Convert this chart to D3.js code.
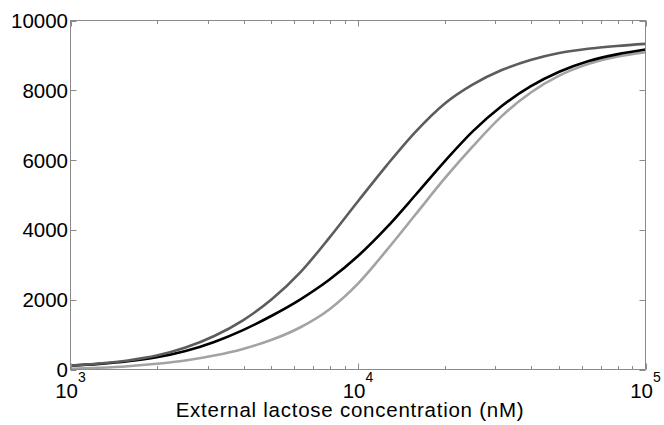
<!DOCTYPE html>
<html>
<head>
<meta charset="utf-8">
<script src="https://cdn.jsdelivr.net/npm/d3@7"></script>
<style>
  html, body { margin: 0; padding: 0; background: #fff; }
  svg { display: block; font-family: Arial, "Liberation Sans", Helvetica, sans-serif; }
</style>
</head>
<body>
<svg id="chart" width="664" height="425"></svg>
<script>
// Lactose concentration (nM)
const concentrations = [1000, 1259, 1585, 1995, 2512, 3162, 3981, 5012, 6310, 7943,
  10000, 12589, 15849, 19953, 25119, 31623, 39811, 50119, 63096, 79433, 100000];
// Series values
const seriesDark  = [110, 170, 260, 400, 630, 960, 1410, 2010, 2790, 3770,
  4820, 5850, 6810, 7610, 8170, 8580, 8870, 9070, 9190, 9270, 9330];
const seriesBlack = [110, 160, 235, 350, 530, 790, 1130, 1540, 2010, 2570,
  3250, 4070, 5000, 5950, 6830, 7550, 8110, 8530, 8830, 9030, 9170];
const seriesLight = [20, 50, 95, 165, 260, 400, 590, 850, 1210, 1720,
  2460, 3420, 4440, 5460, 6400, 7260, 7930, 8420, 8750, 8960, 9090];
const yTicks = [0, 2000, 4000, 6000, 8000, 10000];
const xMajorTicks = [1000, 10000, 100000];
const xMinorTicks = [2000, 3000, 4000, 5000, 6000, 7000, 8000, 9000,
  20000, 30000, 40000, 50000, 60000, 70000, 80000, 90000];
const xTitle = "External lactose concentration (nM)";

const svg = d3.select("#chart");
const L = 70.5, R = 645.5, T = 20.5, B = 369.5;
const x = d3.scaleLog().domain([1000, 100000]).range([L, R]);
const y = d3.scaleLinear().domain([0, 10000]).range([B, T]);
const axisColor = "#8a8a8a";

svg.append("defs").append("clipPath").attr("id", "clip")
  .append("rect").attr("x", L).attr("y", T - 2).attr("width", R - L).attr("height", B - T + 2);

const series = [
  { values: seriesLight, color: "#a3a3a3" },
  { values: seriesBlack, color: "#000000" },
  { values: seriesDark,  color: "#5c5c5c" }
];
const line = d3.line().x(d => x(d[0])).y(d => y(d[1])).curve(d3.curveMonotoneX);
svg.append("g").attr("clip-path", "url(#clip)")
  .selectAll("path").data(series).join("path")
  .attr("d", s => line(concentrations.map((c, i) => [c, s.values[i]])))
  .attr("fill", "none").attr("stroke", s => s.color).attr("stroke-width", 2.6)
  .attr("stroke-linejoin", "round");

const g = svg.append("g");
g.append("rect").attr("x", L).attr("y", T).attr("width", R - L).attr("height", B - T)
  .attr("fill", "none").attr("stroke", axisColor).attr("stroke-width", 1);

yTicks.forEach(v => {
  const yy = Math.round(y(v)) + 0.5;
  g.append("line").attr("x1", L).attr("x2", L + 6).attr("y1", yy).attr("y2", yy).attr("stroke", axisColor);
  g.append("line").attr("x1", R).attr("x2", R - 6).attr("y1", yy).attr("y2", yy).attr("stroke", axisColor);
  g.append("text").attr("x", 68).attr("y", y(v) + 7.5).attr("text-anchor", "end")
    .attr("font-size", 20.5).attr("fill", "#000").text(v);
});

xMajorTicks.forEach(v => {
  const xx = Math.round(x(v)) + 0.5;
  g.append("line").attr("x1", xx).attr("x2", xx).attr("y1", B).attr("y2", B - 6).attr("stroke", axisColor);
  g.append("line").attr("x1", xx).attr("x2", xx).attr("y1", T).attr("y2", T + 6).attr("stroke", axisColor);
});
xMinorTicks.forEach(v => {
  const xx = Math.round(x(v)) + 0.5;
  g.append("line").attr("x1", xx).attr("x2", xx).attr("y1", B).attr("y2", B - 3.5).attr("stroke", axisColor);
  g.append("line").attr("x1", xx).attr("x2", xx).attr("y1", T).attr("y2", T + 3.5).attr("stroke", axisColor);
});

xMajorTicks.forEach(v => {
  const exp = Math.round(Math.log10(v));
  const t = g.append("text").attr("x", x(v)).attr("y", 397.5).attr("text-anchor", "middle")
    .attr("font-size", 20.5).attr("fill", "#000");
  t.append("tspan").text("10");
  t.append("tspan").attr("font-size", 14).attr("dy", -16).text(exp);
});

g.append("text").attr("x", 350).attr("y", 416.5).attr("text-anchor", "middle")
  .attr("font-size", 20.5).attr("letter-spacing", 0.75).attr("fill", "#000").text(xTitle);
</script>
</body>
</html>
